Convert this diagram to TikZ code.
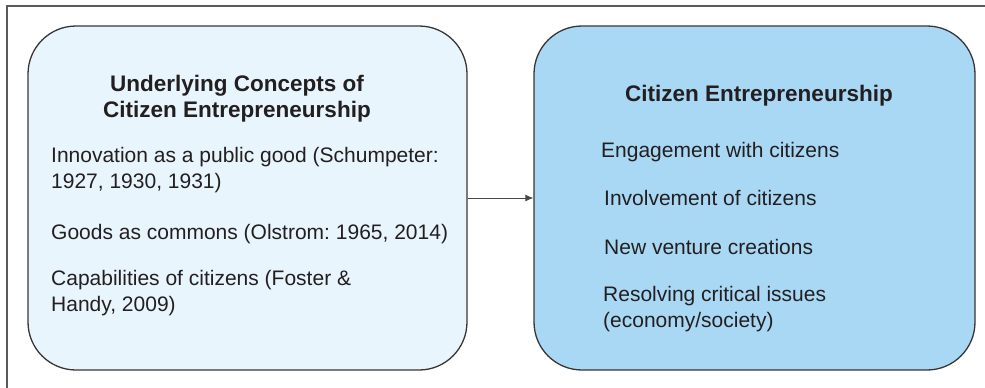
\documentclass[tikz,border=0pt]{standalone}
\usepackage{fontspec}
\setmainfont{Liberation Sans}
\usetikzlibrary{arrows.meta}
\definecolor{cepale}{HTML}{E9F5FD}
\definecolor{cesky}{HTML}{A9D8F4}
\definecolor{ceink}{HTML}{231F20}
\definecolor{ceframe}{HTML}{5A5A5A}
\frenchspacing

\begin{document}
\begin{tikzpicture}[x=1pt,y=-1pt,
    every node/.style={text=ceink,inner sep=0pt},
    cbox/.style={draw=ceink!90,line width=1.3pt,rounded corners=48pt,
      minimum width=#1,minimum height=344pt},
    head/.style={font=\fontsize{22.5}{26}\selectfont\bfseries,align=center,anchor=base},
    item/.style={font=\fontsize{21}{25.5}\selectfont,align=left,anchor=base west}]
  \useasboundingbox (0,0) rectangle (985,388);
  \draw[ceframe,line width=1.2pt] (7,388) -- (7,6) -- (985,6);
  % the two boxes
  \node[cbox=439pt,fill=cepale] (concepts) at (247.5,198) {};
  \node[cbox=441pt,fill=cesky] (citizen) at (754.5,198) {};
  \draw[ceframe!80!black,line width=0.9pt,-{Latex[length=8pt,width=7pt]}]
    (concepts.east) -- (citizen.west);
  % left box texts (base = last line)
  \node[head] (concepts-title) at (237,117) {Underlying Concepts of\\Citizen Entrepreneurship};
  \node[item] (innovation) at (51,188) {Innovation as a public good (Schumpeter:\\1927, 1930, 1931)};
  \node[item] (commons) at (51,239) {Goods as commons (Olstrom: 1965, 2014)};
  \node[item] (capabilities) at (51,311) {Capabilities of citizens (Foster \&\\Handy, 2009)};
  % right box texts
  \node[head] (citizen-title) at (759,101) {Citizen Entrepreneurship};
  \node[item] (engagement) at (601,157) {Engagement with citizens};
  \node[item] (involvement) at (604,205) {Involvement of citizens};
  \node[item] (venture) at (604,254) {New venture creations};
  \node[item] (resolving) at (603,327) {Resolving critical issues\\(economy/society)};
\end{tikzpicture}
\end{document}
